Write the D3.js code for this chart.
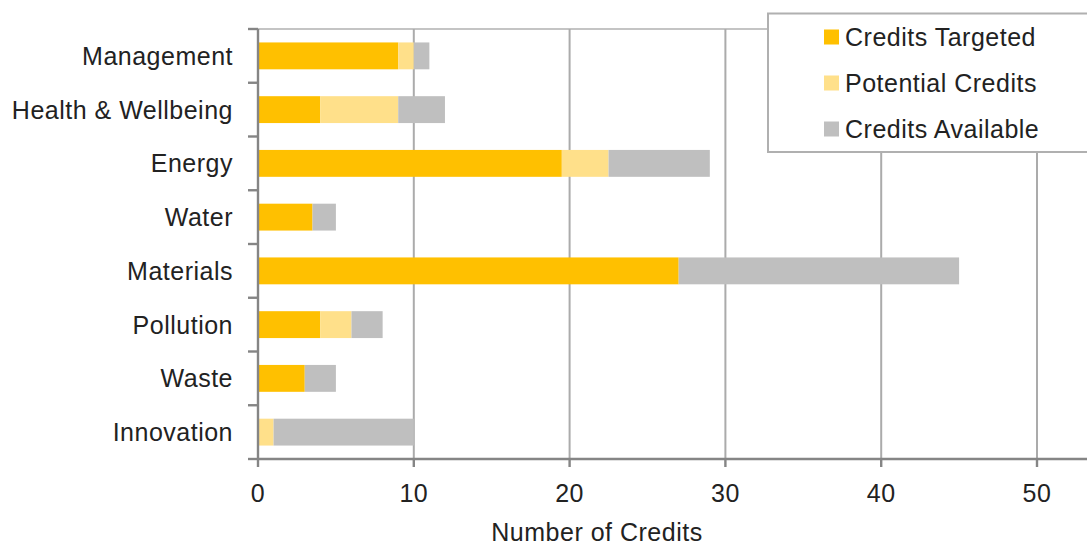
<!DOCTYPE html>
<html>
<head>
<meta charset="utf-8">
<script src="https://cdn.jsdelivr.net/npm/d3@7"></script>
<style>
  html, body { margin: 0; padding: 0; background: #fff; }
  svg { display: block; }
  text { font-family: "Liberation Sans", Arial, sans-serif; fill: #222; letter-spacing: 0.5px; }
</style>
</head>
<body>
<svg id="chart" width="1087" height="545"></svg>
<script>
// Credit categories (top to bottom)
const categories = ["Management", "Health & Wellbeing", "Energy", "Water", "Materials", "Pollution", "Waste", "Innovation"];
// Credits targeted per category
const targeted  = [9, 4, 19.5, 3.5, 27, 4, 3, 0];
// Additional potential credits on top of the targeted ones
const potential = [1, 5, 3, 0, 0, 2, 0, 1];
// Total credits available per category
const available = [11, 12, 29, 5, 45, 8, 5, 10];
const xTicks = [0, 10, 20, 30, 40, 50];
const seriesNames = ["Credits Targeted", "Potential Credits", "Credits Available"];
const colors = ["#FFC000", "#FFE08A", "#BFBFBF"];

const svg = d3.select("#chart");
const plotLeft = 258, plotRight = 1037, plotTop = 29, plotBottom = 459;

const x = d3.scaleLinear().domain([0, 50]).range([plotLeft, plotRight]);
const y = d3.scaleBand().domain(categories).range([plotTop, plotBottom]).paddingInner(0.5).paddingOuter(0.25);
const step = y.step();

// Plot area top border
svg.append("line")
  .attr("x1", plotLeft).attr("x2", 1087).attr("y1", plotTop).attr("y2", plotTop)
  .attr("stroke", "#c4c4c4").attr("stroke-width", 2);

// Vertical gridlines
svg.append("g").selectAll("line").data(xTicks.slice(1)).join("line")
  .attr("x1", d => x(d)).attr("x2", d => x(d))
  .attr("y1", plotTop).attr("y2", plotBottom)
  .attr("stroke", "#ababab").attr("stroke-width", 2);

// Stacked segments: targeted, potential, remaining available
const rows = categories.map((c, i) => {
  const t = targeted[i], p = potential[i], a = available[i];
  return [
    { cat: c, x0: 0, x1: t, k: 0 },
    { cat: c, x0: t, x1: t + p, k: 1 },
    { cat: c, x0: t + p, x1: a, k: 2 }
  ];
}).flat().filter(s => s.x1 > s.x0);

svg.append("g").selectAll("rect").data(rows).join("rect")
  .attr("x", d => x(d.x0))
  .attr("width", d => x(d.x1) - x(d.x0))
  .attr("y", d => y(d.cat))
  .attr("height", y.bandwidth())
  .attr("fill", d => colors[d.k]);

// Axis lines
svg.append("line")
  .attr("x1", plotLeft).attr("x2", plotLeft).attr("y1", plotTop).attr("y2", plotBottom + 1)
  .attr("stroke", "#858585").attr("stroke-width", 2.4);
svg.append("line")
  .attr("x1", plotLeft - 1).attr("x2", 1087).attr("y1", plotBottom).attr("y2", plotBottom)
  .attr("stroke", "#858585").attr("stroke-width", 2.4);

// Category boundary ticks on the vertical axis
const bounds = d3.range(categories.length + 1).map(i => plotTop + i * step);
svg.append("g").selectAll("line").data(bounds).join("line")
  .attr("x1", plotLeft - 10).attr("x2", plotLeft)
  .attr("y1", d => d).attr("y2", d => d)
  .attr("stroke", "#858585").attr("stroke-width", 2.4);

// Category labels
svg.append("g").selectAll("text").data(categories).join("text")
  .attr("x", plotLeft - 25)
  .attr("y", d => y(d) + y.bandwidth() / 2)
  .attr("dy", "0.36em")
  .attr("text-anchor", "end")
  .attr("font-size", 25)
  .text(d => d);

// X ticks and labels
svg.append("g").selectAll("line").data(xTicks).join("line")
  .attr("x1", d => x(d)).attr("x2", d => x(d))
  .attr("y1", plotBottom).attr("y2", plotBottom + 8)
  .attr("stroke", "#858585").attr("stroke-width", 2.4);
svg.append("g").selectAll("text").data(xTicks).join("text")
  .attr("x", d => x(d))
  .attr("y", 502)
  .attr("text-anchor", "middle")
  .attr("font-size", 25)
  .text(d => d);

// Axis title
svg.append("text")
  .attr("x", 597).attr("y", 541)
  .attr("text-anchor", "middle")
  .attr("font-size", 25)
  .text("Number of Credits");

// Legend
const lg = svg.append("g");
lg.append("rect")
  .attr("x", 768).attr("y", 13.5).attr("width", 330).attr("height", 138.5)
  .attr("fill", "#fff").attr("stroke", "#b0b0b0").attr("stroke-width", 2);
const legendY = [37, 83, 129];
seriesNames.forEach((name, i) => {
  lg.append("rect")
    .attr("x", 824).attr("y", legendY[i] - 7.5).attr("width", 15).attr("height", 15)
    .attr("fill", colors[i]);
  lg.append("text")
    .attr("x", 845).attr("y", legendY[i] + 9)
    .attr("font-size", 25)
    .text(name);
});
</script>
</body>
</html>
